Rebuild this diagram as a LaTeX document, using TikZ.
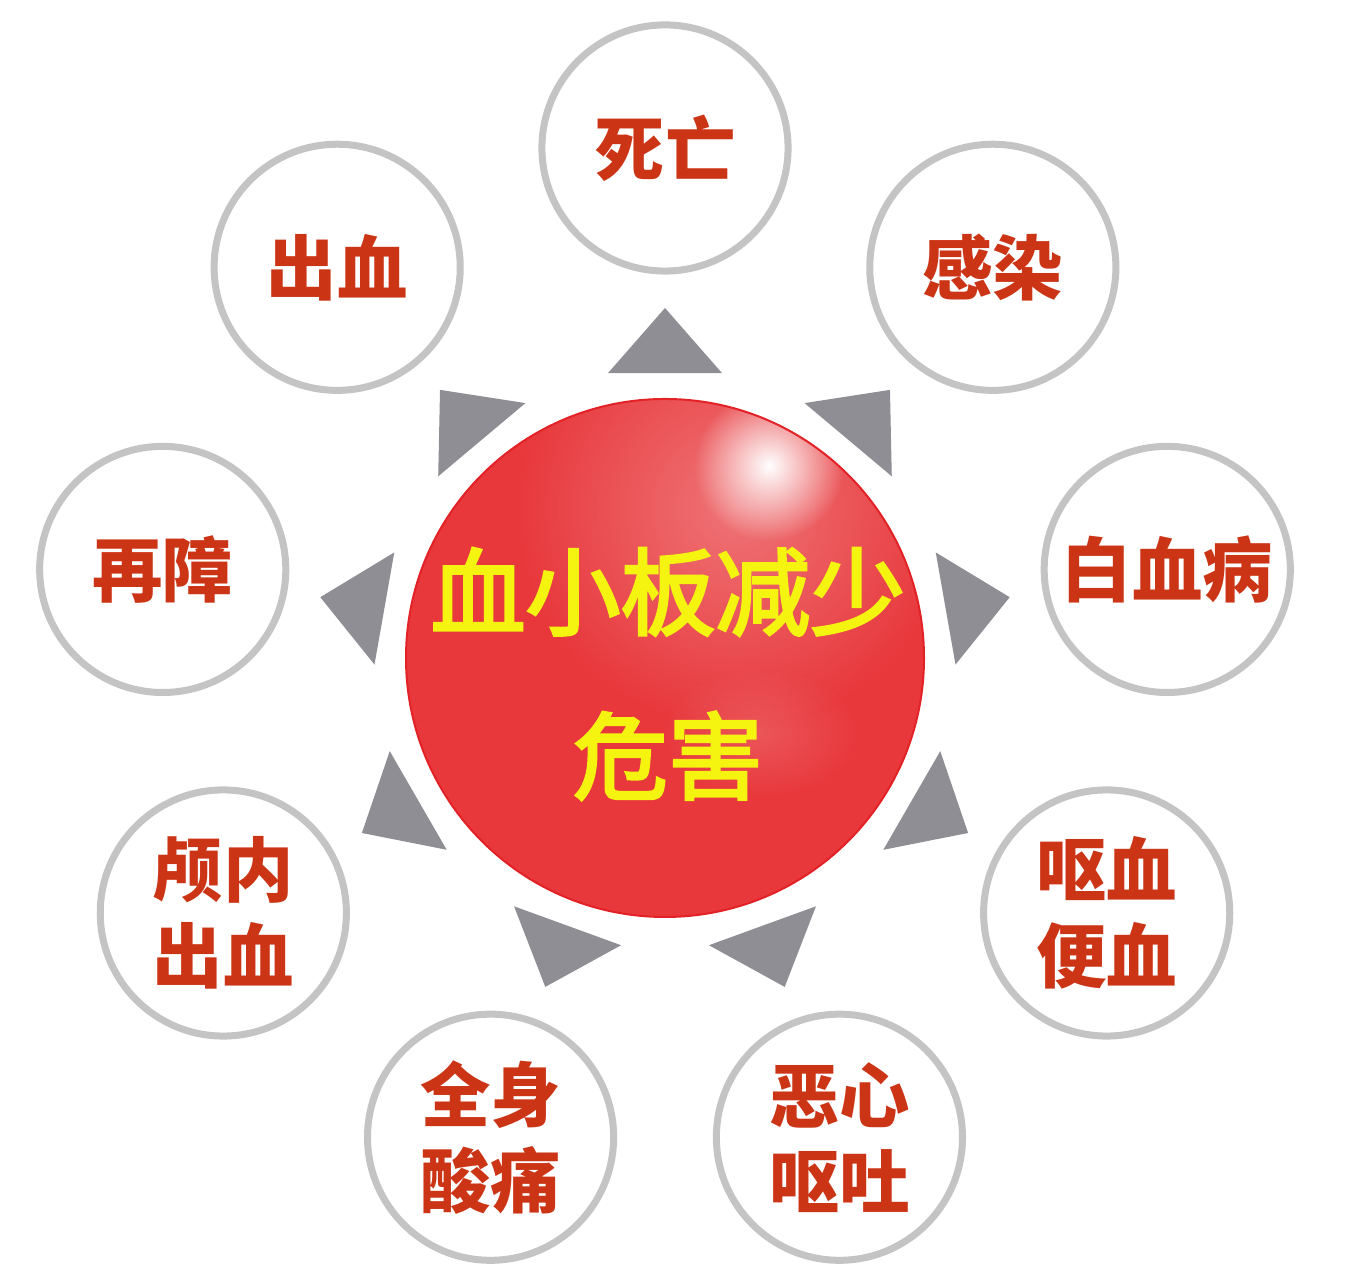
\documentclass[tikz,border=0pt]{standalone}
\usepackage{fontspec}
\newfontfamily\cjk{Noto Sans CJK SC}
\newfontfamily\cjkhub[FakeBold=3]{Noto Sans CJK SC}
\usetikzlibrary{fadings}
\definecolor{sphereRed}{RGB}{232,56,60}
\definecolor{sphereRim}{RGB}{226,34,38}
\definecolor{labelRed}{RGB}{204,52,22}
\definecolor{triGray}{RGB}{142,142,148}
\definecolor{ringGray}{RGB}{196,196,196}
\definecolor{hubYellow}{RGB}{244,244,16}
\tikzfading[name=glow, inner color=transparent!0, outer color=transparent!100]
\tikzset{symptom/.style={draw=ringGray, line width=0.07cm, fill=white, circle,
		minimum size=2.46cm, inner sep=0pt, align=center, text=labelRed,
		font=\cjk\bfseries\fontsize{20}{24.5}\selectfont},
	title/.style={align=center, text=hubYellow, inner sep=0pt,
		font=\cjkhub\fontsize{27}{46.7}\selectfont},
	pointer/.style={fill=triGray}}

\begin{document}
\begin{tikzpicture}[x=0.01cm,y=0.01cm]
		\useasboundingbox (-665,-622) rectangle (696,658);
		\foreach \a in{90,50,10,-30,-70,-110,-150,170,130}
		\fill[pointer](\a+11.3:290.6)--(\a:350)--(\a-11.3:290.6)--cycle;
		
		\fill[sphereRed](0,0)circle(259)node(hub){};
		\begin{scope}
			\clip(0,0)circle(259);
			\fill[white,opacity=0.3,path fading=glow](70,150)circle(220);
			\fill[white,path fading=glow](104,192)circle(75);
			\fill[white,opacity=0.15,path fading=glow](95,-75)ellipse(100 and 65);
		\end{scope}
		\draw[sphereRim,line width=0.02cm](hub.center)circle(259);
		\node[title](h1)at(3,-16){血小板减少\\危害};
		
		\foreach \a/\t [count=\i] in{90/死亡,50/感染,10/白血病,-30/{呕血\\便血},
			-70/{恶心\\呕吐},-110/{全身\\酸痛},-150/{颅内\\出血},170/再障,130/出血}
		\node[symptom](s\i)at(\a:510){\t};
\end{tikzpicture}
\end{document}
